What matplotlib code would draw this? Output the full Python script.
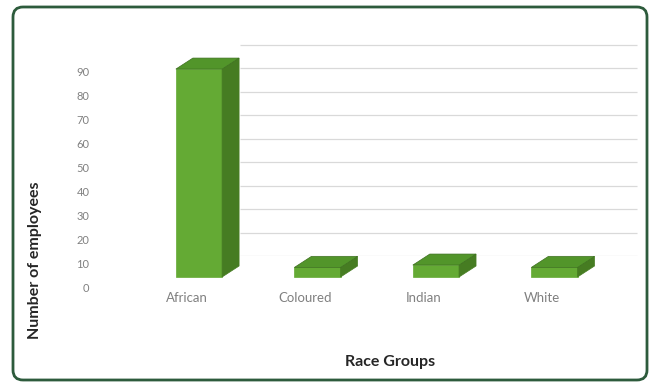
import matplotlib
matplotlib.use("Agg")
import matplotlib.pyplot as plt
import numpy as np
from matplotlib.patches import Polygon, FancyBboxPatch
from matplotlib.transforms import ScaledTranslation, IdentityTransform

# ---- data ----
categories = ["African", "Coloured", "Indian", "White"]
employees = [87, 4, 5, 4]
y_ticks = [0, 10, 20, 30, 40, 50, 60, 70, 80, 90]
x_label = "Race Groups"
y_label = "Number of employees"

# ---- style ----
W, H = 656, 387
plt.rcParams['font.family'] = ['Lato', 'DejaVu Sans']
FRONT = "#64aa34"
SIDE = "#467c22"
TOP = "#52952a"
EDGE = "#3c6f1e"
GRID = "#d9d9d9"
TXT = "#808080"

fig = plt.figure(figsize=(W / 100, H / 100), dpi=100)
fig.patch.set_facecolor("white")


def px_axes(left, top, right, bottom):
    return [left / W, 1 - bottom / H, (right - left) / W, (bottom - top) / H]


# back wall gridlines
ax_back = fig.add_axes(px_axes(121.2, 21.5, 666.2, 256))
ax_back.set_xlim(-0.8, 3.8)
ax_back.set_ylim(0, 100)
ax_back.axis("off")
ax_back.hlines(y_ticks, 0.2, 3.55, color=GRID, lw=0.9)

# main (label plane) axes
ax = fig.add_axes(px_axes(92.2, 48, 637.2, 287))
ax.set_xlim(-0.8, 3.8)
ax.set_ylim(0, 100)
ax.patch.set_alpha(0)
for s in ax.spines.values():
    s.set_visible(False)
ax.set_yticks(y_ticks)
ax.set_xticks(range(len(categories)))
ax.set_xticklabels(categories)
ax.tick_params(length=0, colors=TXT)
ax.tick_params(axis="y", pad=2, labelsize=8)
ax.tick_params(axis="x", pad=3.5, labelsize=9.5)

x = np.arange(len(categories))
w = 0.39
offx, offy = 12, 10      # front face offset from label plane (px)
dx, dy = 17, 11          # depth of boxes (px)
front_tr = ax.transData + ScaledTranslation(offx / 100, offy / 100, fig.dpi_scale_trans)
ax.bar(x, employees, width=w, color=FRONT, edgecolor=FRONT, lw=0.5,
       transform=front_tr, zorder=3, clip_on=False)

for xi, v in zip(x, employees):
    x0, y0 = ax.transData.transform((xi - w / 2, 0)) + np.array([offx, offy])
    x1, y1 = ax.transData.transform((xi + w / 2, v)) + np.array([offx, offy])
    top = [(x0, y1), (x1, y1), (x1 + dx, y1 + dy), (x0 + dx, y1 + dy)]
    side = [(x1, y0), (x1, y1), (x1 + dx, y1 + dy), (x1 + dx, y0 + dy)]
    ax.add_patch(Polygon(side, closed=True, transform=IdentityTransform(),
                         fc=SIDE, ec=SIDE, lw=0.5, zorder=3, clip_on=False))
    ax.add_patch(Polygon(top, closed=True, transform=IdentityTransform(),
                         fc=TOP, ec=EDGE, lw=0.5, zorder=3, clip_on=False))

fig.text(35 / W, 1 - 260 / H, y_label, rotation=90, ha="center", va="center",
         fontsize=11.5, fontweight="bold", color="#262626")
fig.text(390 / W, 1 - 362 / H, x_label, ha="center", va="center",
         fontsize=11.5, fontweight="bold", color="#262626")

border = FancyBboxPatch((0.13, 0.07), 6.34, 3.73,
                        boxstyle="round,pad=0,rounding_size=0.1",
                        transform=fig.dpi_scale_trans, fill=False,
                        ec="#2d5b3c", lw=2)
fig.add_artist(border)

fig.savefig("out.png", dpi=100)
